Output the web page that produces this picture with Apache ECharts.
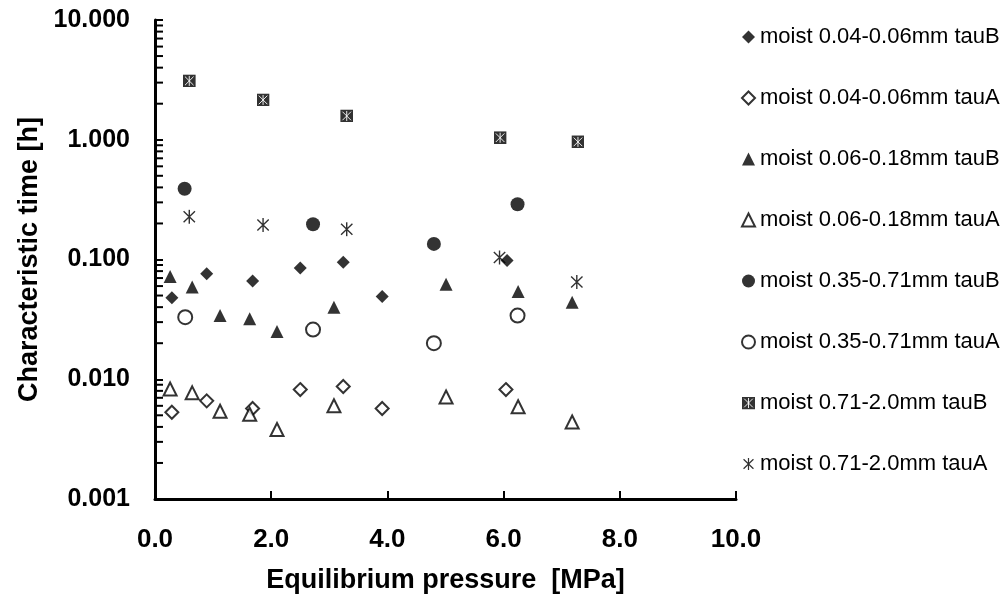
<!DOCTYPE html>
<html>
<head>
<meta charset="utf-8">
<script src="https://cdn.jsdelivr.net/npm/echarts@6/dist/echarts.min.js"></script>
<style>html,body{margin:0;padding:0;background:#fff;}#c{width:1005px;height:603px;}</style>
</head>
<body>
<div id="c"></div>
<script>
// ---- data ----
var names = [
  'moist 0.04-0.06mm tauB', 'moist 0.04-0.06mm tauA',
  'moist 0.06-0.18mm tauB', 'moist 0.06-0.18mm tauA',
  'moist 0.35-0.71mm tauB', 'moist 0.35-0.71mm tauA',
  'moist 0.71-2.0mm tauB', 'moist 0.71-2.0mm tauA'
];
var x04B = [0.29, 0.89, 1.68, 2.50, 3.24, 3.91, 6.06];
var y04B = [0.048, 0.076, 0.066, 0.085, 0.095, 0.049, 0.098];
var x04A = [0.29, 0.89, 1.68, 2.50, 3.24, 3.91, 6.04];
var y04A = [0.0053, 0.0066, 0.0057, 0.0082, 0.0087, 0.0057, 0.0082];
var x06B = [0.26, 0.64, 1.12, 1.63, 2.10, 3.08, 5.01, 6.25, 7.18];
var y06B = [0.072, 0.059, 0.034, 0.032, 0.025, 0.040, 0.062, 0.054, 0.044];
var x06A = [0.26, 0.64, 1.12, 1.63, 2.10, 3.08, 5.01, 6.25, 7.18];
var y06A = [0.0083, 0.0077, 0.0054, 0.0051, 0.0038, 0.0060, 0.0071, 0.0059, 0.0044];
var x35B = [0.51, 2.72, 4.80, 6.24];
var y35B = [0.39, 0.197, 0.135, 0.289];
var x35A = [0.52, 2.72, 4.80, 6.24];
var y35A = [0.033, 0.026, 0.020, 0.034];
var x71B = [0.59, 1.86, 3.30, 5.94, 7.28];
var y71B = [3.10, 2.15, 1.58, 1.04, 0.96];
var x71A = [0.59, 1.86, 3.30, 5.93, 7.26];
var y71A = [0.228, 0.194, 0.179, 0.104, 0.065];
var xTicks = [0, 2, 4, 6, 8, 10];
var yTicks = [0.001, 0.01, 0.1, 1, 10];

// ---- helpers ----
function pairs(xs, ys) { return xs.map(function (x, i) { return [x, ys[i]]; }); }
var minorTicks = [];
for (var d = 0; d < yTicks.length - 1; d++) {
  for (var m = 2; m <= 9; m++) minorTicks.push([0, +(yTicks[d] * m).toPrecision(3)]);
}
function svgUri(svg) { return 'image://data:image/svg+xml;charset=utf-8,' + encodeURIComponent(svg); }
var boxX = svgUri("<svg xmlns='http://www.w3.org/2000/svg' width='26' height='26' viewBox='0 0 13 13'><rect width='13' height='13' fill='black'/><path d='M2.2 2.2L10.8 10.8M10.8 2.2L2.2 10.8M6.5 1.5L6.5 11.5' stroke='white' stroke-width='0.9' fill='none'/></svg>");
var aster = svgUri("<svg xmlns='http://www.w3.org/2000/svg' width='30' height='30' viewBox='0 0 15 15'><path d='M1.8 2L13.2 13M13.2 2L1.8 13M7.5 0.5L7.5 14.5' stroke='black' stroke-width='1.4' fill='none'/></svg>");

var FONT = '"Liberation Sans", Arial, sans-serif';
var symbols = ['diamond', 'emptyDiamond', 'triangle', 'emptyTriangle', 'circle', 'emptyCircle', boxX, aster];
var sizes = [13, 13, 13, 13, 14, 14, 13, 15];
var datas = [pairs(x04B, y04B), pairs(x04A, y04A), pairs(x06B, y06B), pairs(x06A, y06A),
             pairs(x35B, y35B), pairs(x35A, y35A), pairs(x71B, y71B), pairs(x71A, y71A)];

var series = names.map(function (n, i) {
  return {
    name: n, type: 'scatter', data: datas[i], symbol: symbols[i], symbolSize: sizes[i],
    itemStyle: { color: '#000', borderColor: '#000', borderWidth: (i % 2 === 1 && i < 6) ? 1.3 : 0 },
    emphasis: { disabled: true }, z: 3
  };
});
series.push({
  name: 'minorTicks', type: 'custom', coordinateSystem: 'cartesian2d', silent: true, clip: false,
  data: minorTicks, z: 2,
  renderItem: function (params, api) {
    var p = api.coord([api.value(0), api.value(1)]);
    return { type: 'line', shape: { x1: p[0], y1: p[1], x2: p[0] + 8, y2: p[1] },
             style: { stroke: '#000', lineWidth: 2 } };
  }
});

var chart = echarts.init(document.getElementById('c'), null, { renderer: 'canvas' });
chart.setOption({
  animation: false,
  backgroundColor: '#fff',
  grid: { left: 155, right: 269, top: 20, bottom: 104, containLabel: false },
  legend: {
    orient: 'vertical', left: 736, top: 21, itemGap: 39, itemWidth: 13, itemHeight: 13,
    data: names, selectedMode: false,
    textStyle: { fontFamily: FONT, fontSize: 22, color: '#000', lineHeight: 22 }
  },
  xAxis: {
    type: 'value', min: xTicks[0], max: xTicks[xTicks.length - 1], interval: 2,
    name: 'Equilibrium pressure  [MPa]', nameLocation: 'middle', nameGap: 68,
    nameTextStyle: { fontFamily: FONT, fontSize: 27, fontWeight: 'bold', color: '#000' },
    axisLine: { show: true, lineStyle: { color: '#000', width: 3 } },
    axisTick: { show: true, inside: true, length: 8, lineStyle: { color: '#000', width: 2 } },
    axisLabel: { fontFamily: FONT, fontSize: 26, fontWeight: 'bold', color: '#000', margin: 28,
                 formatter: function (v) { return v.toFixed(1); } },
    splitLine: { show: false }
  },
  yAxis: {
    type: 'log', logBase: 10, min: yTicks[0], max: yTicks[yTicks.length - 1],
    name: 'Characteristic time [h]', nameLocation: 'middle', nameGap: 104, nameRotate: 90,
    nameTextStyle: { fontFamily: FONT, fontSize: 27, fontWeight: 'bold', color: '#000' },
    axisLine: { show: true, lineStyle: { color: '#000', width: 3 } },
    axisTick: { show: true, inside: true, length: 8, lineStyle: { color: '#000', width: 2 } },
    axisLabel: { fontFamily: FONT, fontSize: 25, fontWeight: 'bold', color: '#000', margin: 25,
                 formatter: function (v) { return v.toFixed(3); } },
    splitLine: { show: false }
  },
  series: series
});
</script>
</body>
</html>
